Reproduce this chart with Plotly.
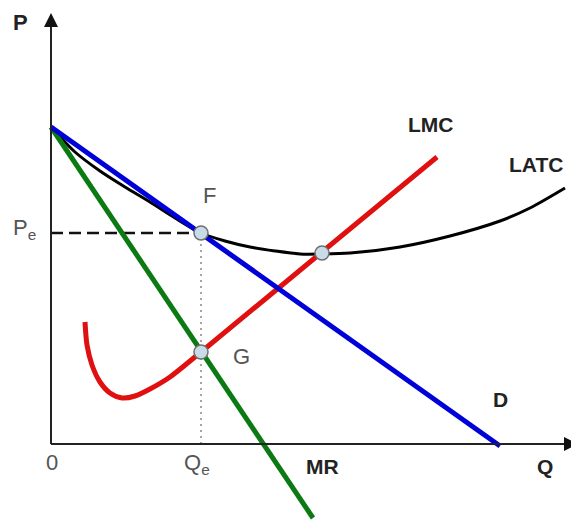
import plotly.graph_objects as go

# Data in chart units (Q horizontal, P vertical)
d_q = [0, 449]
d_p = [317, -2]

mr_q = [0, 262]
mr_p = [317, -74]

latc_q = [0, 24, 49, 74, 99, 124, 150, 174, 199, 224, 249, 271, 299, 349, 399, 449, 479, 514]
latc_p = [317, 292, 273, 257, 242, 226, 211, 203, 197, 193, 190, 190, 191, 197, 208, 223, 236, 256]

lmc_q = [34, 36, 41, 49, 59, 71, 84, 99, 119, 150, 268, 386]
lmc_p = [122, 99, 79, 62, 51, 46, 48, 55, 67, 92, 189.5, 287]

qe = 150
pe = 211
g_p = 92
min_q = 271
min_p = 191

pt_q = [qe, qe, min_q]
pt_p = [pe, g_p, min_p]

fig = go.Figure()

# dashed Pe line and dotted Qe line
fig.add_trace(go.Scatter(x=[0, qe], y=[pe, pe], mode="lines",
                         line=dict(color="#111", width=2.5, dash="12px,6px"), hoverinfo="skip"))
fig.add_trace(go.Scatter(x=[qe, qe], y=[0, pe], mode="lines",
                         line=dict(color="#888", width=1.5, dash="2px,4px"), hoverinfo="skip"))

fig.add_trace(go.Scatter(x=latc_q, y=latc_p, mode="lines", line=dict(color="#000", width=3, shape="spline", smoothing=0.8)))
fig.add_trace(go.Scatter(x=lmc_q, y=lmc_p, mode="lines", line=dict(color="#e01010", width=5, shape="spline", smoothing=0.8)))
fig.add_trace(go.Scatter(x=mr_q, y=mr_p, mode="lines", line=dict(color="#0b7a12", width=5)))
fig.add_trace(go.Scatter(x=d_q, y=d_p, mode="lines", line=dict(color="#0000d8", width=5)))
fig.add_trace(go.Scatter(x=pt_q, y=pt_p, mode="markers",
                         marker=dict(size=14, color="#c8dce8", line=dict(color="#707070", width=1.5))))

# axes
x_end = 527
y_end = 431
fig.add_shape(type="line", x0=0, y0=0, x1=x_end - 12, y1=0, line=dict(color="#222", width=2))
fig.add_shape(type="line", x0=0, y0=0, x1=0, y1=y_end - 12, line=dict(color="#222", width=2))
fig.add_shape(type="path", path=f"M {x_end} 0 L {x_end-14} 7 L {x_end-14} -7 Z", fillcolor="#111", line=dict(width=0))
fig.add_shape(type="path", path=f"M 0 {y_end} L -7 {y_end-14} L 7 {y_end-14} Z", fillcolor="#111", line=dict(width=0))

reg = dict(family="Arial, Liberation Sans, sans-serif", size=22, color="#555")
bold = dict(family="Arial, Liberation Sans, sans-serif", size=21, color="#222")

labels = [
    ("<b>P</b>", -31, 422, dict(reg, color="#222", size=22)),
    ("P<sub>e</sub>", -27, 215, reg),
    ("F", 158, 249, reg),
    ("G", 190, 88, reg),
    ("0", 1, -18, reg),
    ("Q<sub>e</sub>", 146, -20, reg),
    ("<b>MR</b>", 271, -22, bold),
    ("<b>Q</b>", 494, -22, bold),
    ("<b>D</b>", 449, 45, bold),
    ("<b>LMC</b>", 380, 320, bold),
    ("<b>LATC</b>", 485, 280, bold),
]
for t, x, y, f in labels:
    fig.add_annotation(x=x, y=y, text=t, showarrow=False, font=f, xanchor="center", yanchor="middle")

# the page body adds an 8px offset, so the ranges are shifted to compensate
fig.update_layout(
    width=579, height=522, margin=dict(l=0, r=0, t=0, b=0),
    paper_bgcolor="white", plot_bgcolor="white", showlegend=False,
    xaxis=dict(range=[-43, 536], visible=False, fixedrange=True),
    yaxis=dict(range=[-86, 436], visible=False, fixedrange=True),
)
fig.write_html("out.html")
